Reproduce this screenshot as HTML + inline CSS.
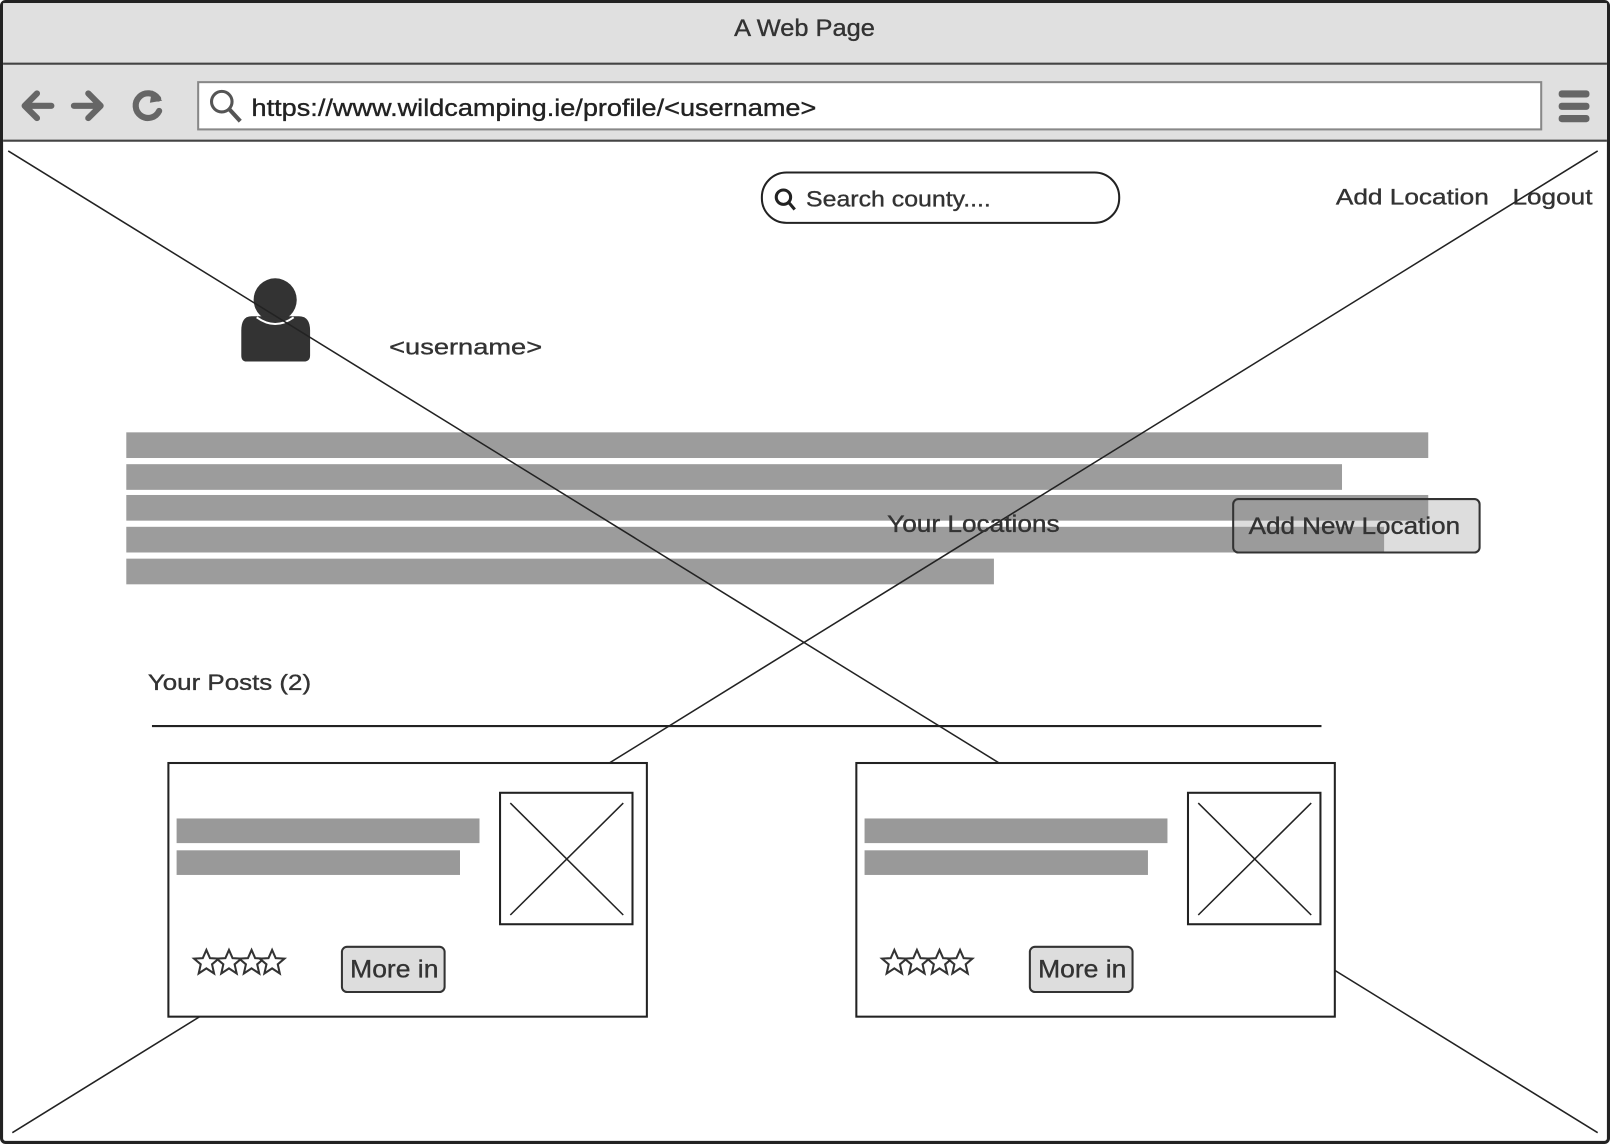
<!DOCTYPE html>
<html><head><meta charset="utf-8"><style>html,body{margin:0;padding:0;background:#fff}svg{display:block}text{stroke:currentColor;stroke-width:0.35}</style></head><body>
<svg width="1610" height="1144" viewBox="0 0 1568 1114" preserveAspectRatio="none" xmlns="http://www.w3.org/2000/svg" font-family="Liberation Sans, sans-serif" fill="#333" color="#333">
<rect x="1.5" y="1.5" width="1565" height="1111" rx="4" fill="#fff" stroke="#222" stroke-width="3"/>
<rect x="3" y="3" width="1562" height="59" fill="#e0e0e0"/>
<rect x="3" y="62" width="1562" height="75" fill="#e0e0e0"/>
<line x1="3" y1="62" x2="1565" y2="62" stroke="#444" stroke-width="2"/>
<line x1="3" y1="137" x2="1565" y2="137" stroke="#444" stroke-width="2"/>
<text x="715" y="35" font-size="23" textLength="137" lengthAdjust="spacingAndGlyphs">A Web Page</text>
<g stroke="#666" stroke-width="6" fill="none" stroke-linecap="round" stroke-linejoin="round">
<path d="M50 103H24M36 91L24 103L36 115"/>
<path d="M72 103H98M86 91L98 103L86 115"/>
<path d="M154 96A12 12 0 1 0 155 108"/>
</g>
<path d="M148 88L158 98L146 100Z" fill="#666"/>
<rect x="193" y="80" width="1308" height="46" fill="#fff" stroke="#888" stroke-width="2"/>
<circle cx="216" cy="99" r="10" fill="none" stroke="#555" stroke-width="3"/>
<line x1="223" y1="106" x2="234" y2="118" stroke="#555" stroke-width="4"/>
<text x="245" y="113" font-size="23" fill="#222" color="#222" textLength="550" lengthAdjust="spacingAndGlyphs">https://www.wildcamping.ie/profile/&lt;username&gt;</text>
<g fill="#666"><rect x="1518" y="88" width="30" height="7" rx="3"/><rect x="1518" y="100" width="30" height="7" rx="3"/><rect x="1518" y="112" width="30" height="7" rx="3"/></g>

<rect x="742" y="168" width="348" height="49" rx="24" fill="#fff" stroke="#222" stroke-width="2"/>
<circle cx="763" cy="192" r="7" fill="none" stroke="#222" stroke-width="3"/>
<line x1="768" y1="197" x2="774" y2="204" stroke="#222" stroke-width="3"/>
<text x="785" y="201" font-size="22" textLength="180" lengthAdjust="spacingAndGlyphs">Search county....</text>
<text x="1301" y="199" font-size="22" textLength="149" lengthAdjust="spacingAndGlyphs">Add Location</text>
<text x="1473" y="199" font-size="22" textLength="78" lengthAdjust="spacingAndGlyphs">Logout</text>

<circle cx="268" cy="292" r="21" fill="#333"/>
<path d="M245 308H291Q302 308 302 322V346Q302 352 296 352H240Q235 352 235 346V322Q235 308 245 308Z" fill="#333"/>
<path d="M250 309Q268 322 286 309" stroke="#fff" stroke-width="2" fill="none"/>
<text x="379" y="345" font-size="22" textLength="149" lengthAdjust="spacingAndGlyphs">&lt;username&gt;</text>

<rect x="1201" y="486" width="240" height="52" rx="5" fill="#ddd"/>
<g fill="#999" opacity="0.97">
<rect x="123" y="421" width="1268" height="25"/>
<rect x="123" y="452" width="1184" height="25"/>
<rect x="123" y="482" width="1268" height="25"/>
<rect x="123" y="513" width="1225" height="25"/>
<rect x="123" y="544" width="845" height="25"/>
</g>
<line x1="8" y1="147" x2="1556" y2="1103" stroke="#222" stroke-width="1.5"/>
<line x1="1556" y1="147" x2="12" y2="1103" stroke="#222" stroke-width="1.5"/>
<rect x="1201" y="486" width="240" height="52" rx="5" fill="none" stroke="#333" stroke-width="2"/>
<text x="864" y="518" font-size="23" textLength="168" lengthAdjust="spacingAndGlyphs">Your Locations</text>
<text x="1216" y="520" font-size="23" textLength="206" lengthAdjust="spacingAndGlyphs">Add New Location</text>

<text x="144" y="672" font-size="22" textLength="159" lengthAdjust="spacingAndGlyphs">Your Posts (2)</text>
<line x1="148" y1="707" x2="1287" y2="707" stroke="#222" stroke-width="2"/>

<g id="c1">
<rect x="164" y="743" width="466" height="247" fill="#fff" stroke="#222" stroke-width="2"/>
<rect x="172" y="797" width="295" height="24" fill="#999"/>
<rect x="172" y="828" width="276" height="24" fill="#999"/>
<rect x="487" y="772" width="129" height="128" fill="#fff" stroke="#222" stroke-width="2"/>
<line x1="497" y1="782" x2="607" y2="891" stroke="#222" stroke-width="1.5"/>
<line x1="607" y1="782" x2="497" y2="891" stroke="#222" stroke-width="1.5"/>
<g fill="#fff" stroke="#333" stroke-width="2">
<path id="st" d="M201 925L204.5 933L213 933.5L206.5 939L208.5 948L201 943L193.5 948L195.5 939L189 933.5L197.5 933Z"/>
<use href="#st" x="22"/><use href="#st" x="44"/><use href="#st" x="64"/>
</g>
<rect x="333" y="922" width="100" height="44" rx="5" fill="#ddd" stroke="#333" stroke-width="2"/>
<text x="341" y="952" font-size="24" textLength="86" lengthAdjust="spacingAndGlyphs">More in</text>
</g>
<use href="#c1" x="670"/>
</svg>
</body></html>
